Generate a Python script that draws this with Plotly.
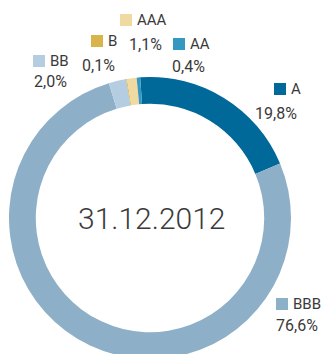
import plotly.graph_objects as go

# Rating distribution of the portfolio
ratings = ["A", "BBB", "BB", "B", "AAA", "AA"]
shares = [19.8, 76.6, 2.0, 0.1, 1.1, 0.4]
colors = ["#00699a", "#8db0c8", "#b5cde0", "#d9b44a", "#f0daa2", "#3598c0"]
center_label = "31.12.2012"

# Label block layout in pixels (from top-left): right edge of the value line,
# centre of the name line, centre of the value line, left edge of the swatch
label_right = [299, 320, 69, 117, 164, 207]
name_y = [89, 304, 61, 41, 20, 44]
value_y = [113, 325, 82, 65, 44, 66]
swatch_x = [274, 276, 33, 91, 120, 173]

W, H = 322, 360
SWATCH = 12
NAME_GAP = 3
TEXT_COLOR = "#3a3a3a"


def px(x):
    return x / W


def py(y):
    return 1 - y / H


def fmt_pct(v):
    return f"{v:.1f}".replace(".", ",") + "%"


fig = go.Figure(
    go.Pie(
        labels=ratings,
        values=shares,
        sort=False,
        direction="clockwise",
        rotation=-4,
        hole=0.81,
        marker=dict(colors=colors, line=dict(width=0)),
        textinfo="none",
        hoverinfo="label+percent",
        showlegend=False,
        domain=dict(x=[px(9), px(291)], y=[py(359), py(77)]),
    )
)

annotations = []
shapes = []
name_font = dict(family="Roboto, Arial, sans-serif", size=15, color=TEXT_COLOR)
value_font = dict(family="Roboto, Arial, sans-serif", size=16, color=TEXT_COLOR)
for name, val, col, rx, ny, vy, sx in zip(
    ratings, shares, colors, label_right, name_y, value_y, swatch_x
):
    # swatch, then the rating name right after it
    shapes.append(dict(
        type="rect", xref="paper", yref="paper",
        x0=px(sx), x1=px(sx + SWATCH),
        y0=py(ny + SWATCH / 2), y1=py(ny - SWATCH / 2),
        fillcolor=col, line=dict(width=0),
    ))
    annotations.append(dict(
        text=name, x=px(sx + SWATCH + NAME_GAP), y=py(ny),
        xref="paper", yref="paper", xanchor="left", yanchor="middle",
        showarrow=False, font=name_font,
    ))
    # share value on the line below, right-aligned
    annotations.append(dict(
        text=fmt_pct(val), x=px(rx), y=py(vy), xref="paper", yref="paper",
        xanchor="right", yanchor="middle", showarrow=False, font=value_font,
    ))

annotations.append(dict(
    text=center_label, x=px(151), y=py(219), xref="paper", yref="paper",
    xanchor="center", yanchor="middle", showarrow=False,
    font=dict(family="Roboto, Arial, sans-serif", size=30, weight=300,
              color=TEXT_COLOR),
))

fig.update_layout(
    width=W,
    height=H,
    autosize=False,
    margin=dict(l=0, r=0, t=0, b=0),
    paper_bgcolor="white",
    plot_bgcolor="white",
    annotations=annotations,
    shapes=shapes,
)

fig.write_html(
    "out.html",
    config={"displayModeBar": False},
    post_script=(
        "document.body.style.margin='0';"
        "document.body.style.overflow='hidden';"
        "document.documentElement.style.overflow='hidden';"
    ),
)
